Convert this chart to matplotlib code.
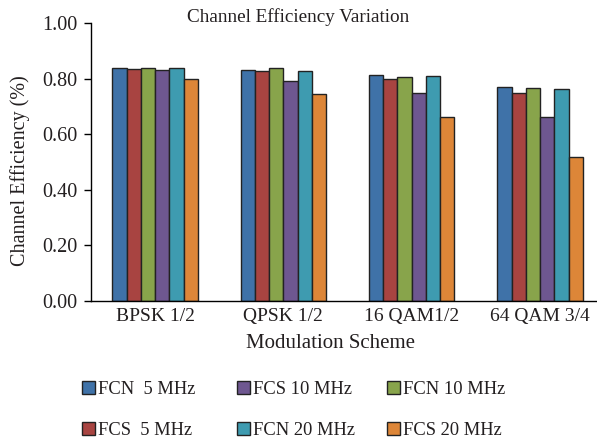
import matplotlib
matplotlib.use("Agg")
import matplotlib.pyplot as plt
import numpy as np

categories = ["BPSK 1/2", "QPSK 1/2", "16 QAM1/2", "64 QAM 3/4"]
series_names = ["FCN  5 MHz", "FCS  5 MHz", "FCN 10 MHz", "FCS 10 MHz", "FCN 20 MHz", "FCS 20 MHz"]
fcn_5 = [0.838, 0.830, 0.813, 0.769]
fcs_5 = [0.834, 0.826, 0.797, 0.748]
fcn_10 = [0.838, 0.837, 0.806, 0.765]
fcs_10 = [0.831, 0.792, 0.749, 0.663]
fcn_20 = [0.839, 0.829, 0.808, 0.763]
fcs_20 = [0.799, 0.745, 0.661, 0.519]
series_values = [fcn_5, fcs_5, fcn_10, fcs_10, fcn_20, fcs_20]
colors = ["#3f72a8", "#a84441", "#88a44b", "#6e5790", "#3e9bb0", "#dd8638"]
yticks = [0.0, 0.2, 0.4, 0.6, 0.8, 1.0]

plt.rcParams['font.family'] = ['Liberation Serif', 'DejaVu Serif']
TXT = "#231f20"

fig = plt.figure(figsize=(5.97, 4.40), dpi=100)
ax = fig.add_axes([0.1524, 0.3159, 0.8476, 0.6318])

x = np.arange(len(categories))
bw = 0.111
handles = []
for i, (name, vals, c) in enumerate(zip(series_names, series_values, colors)):
    off = (i - 2.5) * bw
    b = ax.bar(x + off, vals, width=bw, color=c, edgecolor="#222222", linewidth=1.0, label=name)
    handles.append(b)

ax.set_xlim(-0.5, 3.444)
ax.set_ylim(0, 1.0)
ax.set_yticks(yticks)
ax.set_yticklabels([f"{v:.2f}" for v in yticks], fontsize=14.5, color=TXT)
ax.set_xticks(x)
ax.set_xticklabels(categories, fontsize=14, color=TXT)
ax.tick_params(axis='x', length=0, pad=5)
ax.tick_params(axis='y', direction='out', length=5, width=1, pad=5)
for s in ["top", "right"]:
    ax.spines[s].set_visible(False)
ax.spines["left"].set_linewidth(1.0)
ax.spines["bottom"].set_linewidth(1.0)

fig.text(20 / 597, 1 - 171 / 440, "Channel Efficiency (%)", rotation=90,
         ha="center", va="center", fontsize=14.5, color=TXT)
fig.text(331 / 597, 1 - 343 / 440, "Modulation Scheme", ha="center", va="center",
         fontsize=15, color=TXT)
fig.text(298 / 597, 1 - 17 / 440, "Channel Efficiency Variation", ha="center", va="center",
         fontsize=13.8, color=TXT)

cols = [[0, 1], [3, 4], [2, 5]]
xs = [82 / 597, 237 / 597, 387 / 597]
for col, xx in zip(cols, xs):
    leg = fig.legend([handles[k] for k in col], [series_names[k] for k in col],
                     loc="upper left", bbox_to_anchor=(xx, 1 - 381 / 440), frameon=False,
                     fontsize=13.3, handlelength=0.7, handleheight=0.7, handletextpad=0.15,
                     labelspacing=1.32, borderpad=0, borderaxespad=0)
    for t in leg.get_texts():
        t.set_color(TXT)

fig.savefig("out.png", dpi=100)
